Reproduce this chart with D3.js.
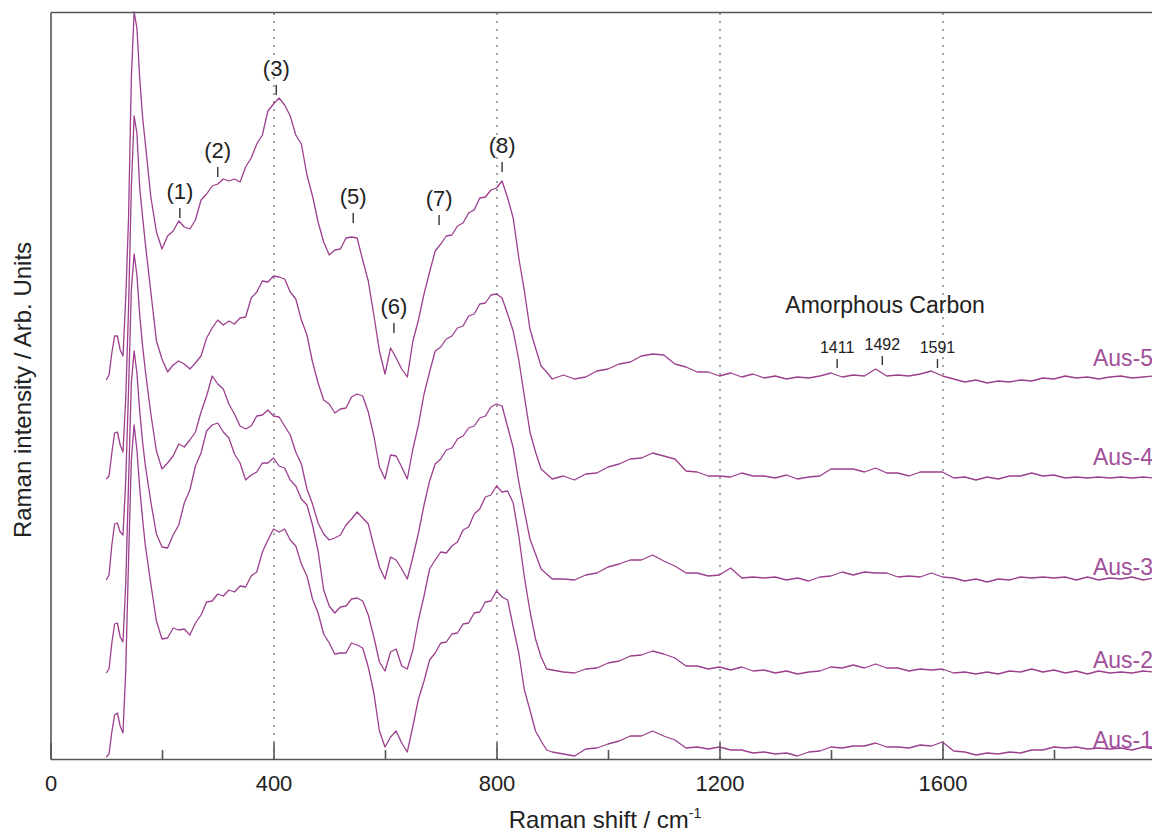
<!DOCTYPE html>
<meta charset="utf-8">
<script src="https://d3js.org/d3.v7.min.js"></script>
<style>
    html, body { margin: 0; background: #fff; }
    text { font-family: "Liberation Sans", Arial, sans-serif; fill: #222; }
    .axis path, .axis line { stroke: #555; stroke-width: 1.6; }
    .grid line { stroke: #8a8a8a; stroke-width: 1.6; stroke-dasharray: 2,6; }
    .grid path { display: none; }
    .spectrum { fill: none; stroke: #9c3f8e; stroke-width: 1.3; stroke-linejoin: round; }
    .mark { stroke: #333; stroke-width: 1.4; }
</style>
<body></body>
<script>

    // DATA
    // Raman shift grid (cm-1), shared by all five spectra
    const shift = [100,105,110,115,120,125,130,135,140,145,150,155,160,165,170,
        180,190,200,210,220,230,240,250,260,270,
        280,290,300,310,320,330,340,350,360,370,
        380,390,400,410,420,430,440,450,460,470,
        480,490,500,510,520,530,540,550,560,570,
        580,590,600,610,620,630,640,650,660,670,
        680,690,700,710,720,730,740,750,760,770,
        780,790,800,810,820,830,840,850,860,870,
        880,890,900,
        920,940,960,980,1000,1020,1040,1060,1080,1100,
        1120,1140,1160,1180,1200,1220,1240,1260,1280,1300,
        1320,1340,1360,1380,1400,1420,1440,1460,1480,1500,
        1520,1540,1560,1580,1600,1620,1640,1660,1680,1700,
        1720,1740,1760,1780,1800,1820,1840,1860,1880,1900,
        1920,1940,1960,1980];

    // intensities above each spectrum's own baseline (arb. units)
    const aus1 = [-7,-4,18,35,37,24,17,80,190,290,325,300,262,232,205,
        166,129,111,112,122,120,121,115,127,135,
        148,149,156,154,160,158,164,163,174,178,
        198,210,221,218,221,210,204,186,174,151,
        137,116,107,96,97,97,107,105,102,83,
        57,19,3,13,19,7,-2,24,51,69,
        90,97,107,108,116,117,126,127,137,138,
        148,149,159,153,150,123,97,60,40,19,
        9,0,-2,
        -4,-6,1,2,6,9,14,14,19,14,
        10,2,3,1,3,0,0,-3,-2,-4,
        -3,-6,-2,-1,3,2,4,4,7,3,
        3,2,5,4,8,-1,-2,-5,-3,-4,
        -2,-3,0,0,3,2,3,1,2,1,
        2,0,3,1];

    const aus2 = [0,4,30,49,50,36,31,90,190,290,322,300,262,232,208,
        171,139,126,125,138,148,170,183,207,220,
        242,248,250,241,235,219,210,193,198,201,
        210,210,215,207,205,193,187,174,168,148,
        122,83,67,60,66,67,74,75,72,58,
        36,11,2,21,24,7,4,23,53,77,
        104,113,121,120,127,131,143,146,159,164,
        176,178,187,181,182,170,137,96,62,34,
        16,4,3,
        1,0,4,5,10,12,17,18,22,19,
        15,7,7,4,6,3,6,2,3,0,
        2,-1,1,2,6,5,8,5,9,5,
        5,2,4,3,4,0,1,-1,1,-1,
        2,1,4,1,3,0,2,-1,2,0,
        1,0,2,1];

    const aus3 = [0,5,35,56,57,48,45,100,190,290,326,305,265,235,210,
        166,129,111,117,124,136,133,140,148,168,
        184,204,196,191,176,166,154,151,154,164,
        165,170,164,163,154,145,128,116,91,76,
        57,46,40,42,45,55,61,68,62,56,
        34,13,1,23,20,11,1,23,47,75,
        99,116,121,130,132,141,144,152,154,162,
        164,173,176,174,153,132,98,69,41,26,
        11,6,1,
        1,0,5,7,13,16,20,20,25,19,
        14,7,7,4,5,12,2,3,2,3,
        0,2,-1,3,4,8,5,8,7,7,
        3,4,3,7,3,2,-1,1,-2,1,
        0,3,2,3,2,3,0,3,0,2,
        1,3,0,2];

    const aus4 = [-1,2,25,45,46,33,26,80,170,290,362,345,290,262,235,
        186,137,119,106,113,117,114,109,115,122,
        140,150,158,153,157,154,160,161,180,186,
        197,196,202,201,199,186,179,158,143,116,
        95,78,74,65,69,70,81,84,82,66,
        42,11,-1,23,22,11,-1,29,53,84,
        106,127,131,139,142,150,152,162,164,174,
        175,183,184,180,164,147,118,82,46,26,
        9,4,-1,
        2,-2,4,5,11,14,19,20,25,22,
        19,7,6,2,2,1,5,2,2,0,
        3,-1,1,2,9,9,9,6,10,5,
        5,2,6,6,6,0,1,-2,1,-1,
        2,2,5,2,3,0,1,0,1,0,
        1,0,1,0];

    const aus5 = [-2,3,25,42,42,28,22,80,160,300,366,350,300,262,235,
        181,146,129,142,147,157,151,149,158,178,
        184,192,194,199,197,199,196,211,220,234,
        243,267,274,280,273,262,243,234,203,182,
        156,136,123,128,129,140,141,140,118,97,
        63,27,4,30,20,9,1,37,58,84,
        106,127,134,142,143,152,155,165,168,180,
        181,188,190,197,180,160,120,87,49,30,
        12,6,-1,
        3,-1,1,7,9,14,16,22,24,23,
        14,11,6,6,2,5,1,4,0,2,
        -1,1,0,2,5,1,3,2,9,2,
        3,2,4,7,2,-1,-4,-2,-5,-3,
        -4,-2,-3,0,-1,2,0,1,-1,1,
        2,0,1,2];

    const sampleNames = ["Aus-1", "Aus-2", "Aus-3", "Aus-4", "Aus-5"];
    const spectra = [aus1, aus2, aus3, aus4, aus5];
    const stackOffsets = [9, 86, 179, 281, 381];
    const nameLift = [2, 5, 5, 13, 12];

    // numbered band markers on the top spectrum
    const bandLabels = ["(1)", "(2)", "(3)", "(5)", "(6)", "(7)", "(8)"];
    const bandShift  = [232, 300, 405, 543, 616, 697, 810];
    const bandLevel  = [541, 582, 664, 536, 426, 534, 587];

    // amorphous carbon bands
    const carbonLabels = ["1411", "1492", "1591"];
    const carbonShift  = [1411, 1492, 1591];
    const carbonLevel  = [391, 394, 391];

    const tickLabels = [0, 400, 800, 1200, 1600];
    const minorTicks = [200, 600, 1000, 1400, 1800];
    const gridLines  = [400, 800, 1200, 1600];

    // LAYOUT
    const width = 1152, height = 832;
    const plotLeft = 50.5, plotTop = 12, plotBottom = 759;

    const svg = d3.select("body").append("svg")
        .attr("width", width)
        .attr("height", height);

    const x = d3.scaleLinear().domain([0, 2000]).range([plotLeft, plotLeft + 1115]);
    const y = d3.scaleLinear().domain([0, 747]).range([plotBottom, plotTop]);

    // dotted reference lines
    svg.append("g")
        .attr("class", "grid")
        .attr("transform", `translate(0,${plotBottom})`)
        .call(d3.axisBottom(x).tickValues(gridLines).tickSize(-(plotBottom - plotTop)).tickFormat(""));

    // spectra
    const line = d3.line()
        .x(d => x(d[0]))
        .y(d => y(d[1]));

    spectra.forEach((vals, i) => {
        const pts = shift.map((s, j) => [s, vals[j] + stackOffsets[i]]);
        svg.append("path")
            .attr("class", "spectrum")
            .attr("d", line(pts));

        svg.append("text")
            .attr("x", width + 1)
            .attr("y", y(stackOffsets[i]) - nameLift[i])
            .attr("text-anchor", "end")
            .style("font-size", "23px")
            .style("fill", "#a24f99")
            .text(sampleNames[i]);
    });

    // frame: bottom axis with inward ticks, plus left and top edges
    svg.append("g")
        .attr("class", "axis")
        .attr("transform", `translate(0,${plotBottom})`)
        .call(d3.axisBottom(x).tickValues(tickLabels).tickFormat(d3.format("d"))
            .tickSizeInner(-16).tickSizeOuter(0).tickPadding(16))
        .call(g => g.selectAll("text").style("font-size", "22px").style("fill", "#222"));

    svg.append("g")
        .attr("class", "axis")
        .attr("transform", `translate(0,${plotBottom})`)
        .call(d3.axisBottom(x).tickValues(minorTicks).tickSizeInner(-9).tickSizeOuter(0).tickFormat(""))
        .call(g => g.select(".domain").remove());

    svg.append("g")
        .attr("class", "axis")
        .attr("transform", `translate(${plotLeft},0)`)
        .call(d3.axisLeft(y).tickValues([]).tickSizeOuter(0));

    svg.append("g")
        .attr("class", "axis")
        .attr("transform", `translate(0,${plotTop})`)
        .call(d3.axisTop(x).tickValues([]).tickSizeOuter(0));

    // band markers
    bandLabels.forEach((lab, i) => {
        const px = x(bandShift[i]), py = y(bandLevel[i]);
        svg.append("line").attr("class", "mark")
            .attr("x1", px).attr("x2", px).attr("y1", py - 10).attr("y2", py);
        svg.append("text")
            .attr("x", px).attr("y", py - 19)
            .attr("text-anchor", "middle")
            .style("font-size", "22px")
            .text(lab);
    });

    carbonLabels.forEach((lab, i) => {
        const px = x(carbonShift[i]), py = y(carbonLevel[i]);
        svg.append("line").attr("class", "mark")
            .attr("x1", px).attr("x2", px).attr("y1", py - 9).attr("y2", py);
        svg.append("text")
            .attr("x", px).attr("y", py - 15)
            .attr("text-anchor", "middle")
            .style("font-size", "16px")
            .text(lab);
    });

    svg.append("text")
        .attr("x", x(1497)).attr("y", y(446))
        .attr("text-anchor", "middle")
        .style("font-size", "23px")
        .text("Amorphous Carbon");

    // axis titles
    const xTitle = svg.append("text")
        .attr("x", 605).attr("y", 828)
        .attr("text-anchor", "middle")
        .style("font-size", "24px");
    xTitle.append("tspan").text("Raman shift / cm");
    xTitle.append("tspan").attr("dy", -10).style("font-size", "14px").text("-1");

    svg.append("text")
        .attr("transform", "translate(31,390) rotate(-90)")
        .attr("text-anchor", "middle")
        .style("font-size", "24px")
        .text("Raman intensity / Arb. Units");

</script>
